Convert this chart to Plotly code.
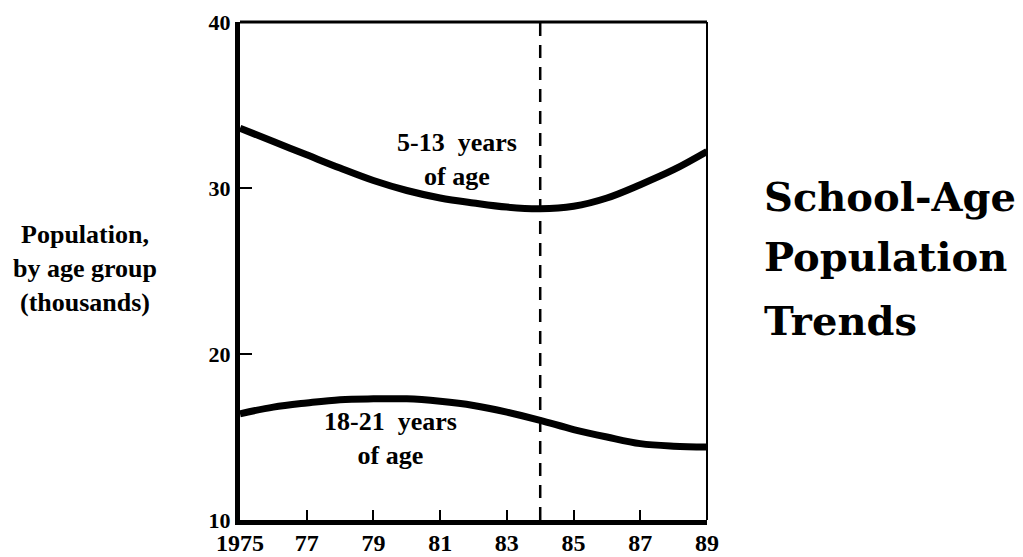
import plotly.graph_objects as go

years = list(range(1975, 1990))
age_5_13 = [33.6, 32.8, 32.0, 31.2, 30.45, 29.85, 29.4, 29.1, 28.85, 28.75, 28.9, 29.4, 30.2, 31.1, 32.2]
age_18_21 = [16.4, 16.8, 17.05, 17.25, 17.3, 17.3, 17.15, 16.9, 16.5, 16.0, 15.45, 15.0, 14.6, 14.45, 14.4]
x_tick_vals = [1975, 1977, 1979, 1981, 1983, 1985, 1987, 1989]
x_tick_text = ["1975", "77", "79", "81", "83", "85", "87", "89"]
y_tick_vals = [10, 20, 30, 40]
y_tick_text = ["10", "20", "30", "40"]
marker_year = 1984
title_lines = ["School-Age", "Population", "Trends"]

SERIF = "Liberation Serif, Times New Roman, serif"
WIDE = "DejaVu Serif, serif"

fig = go.Figure()
for vals in (age_5_13, age_18_21):
    fig.add_trace(go.Scatter(x=years, y=vals, mode="lines",
                             line=dict(color="black", width=7, shape="spline", smoothing=1.0),
                             showlegend=False, hoverinfo="skip"))

fig.add_vline(x=marker_year, line=dict(color="black", width=2.5, dash="13px,9px"))

# thin top and right border
fig.add_shape(type="line", xref="paper", yref="paper", x0=0, x1=1, y0=1, y1=1,
              line=dict(color="black", width=3))
fig.add_shape(type="line", xref="paper", yref="paper", x0=1, x1=1, y0=0, y1=1,
              line=dict(color="black", width=2))

fig.add_annotation(x=1981.5, y=31.7, xref="x", yref="y", text="<b>5-13  years<br>of age</b>",
                   showarrow=False, font=dict(family=SERIF, size=26, color="black"),
                   align="center")
fig.add_annotation(x=1979.5, y=14.9, xref="x", yref="y", text="<b>18-21  years<br>of age</b>",
                   showarrow=False, font=dict(family=SERIF, size=26, color="black"),
                   align="center")

fig.add_annotation(x=-0.332, y=0.506, xref="paper", yref="paper",
                   text="<b>Population,<br>by age group<br>(thousands)</b>",
                   showarrow=False, font=dict(family=SERIF, size=26, color="black"),
                   align="center", xanchor="center", yanchor="middle")

for line_text, py in zip(title_lines, [0.649, 0.530, 0.400]):
    fig.add_annotation(x=1.118, y=py, xref="paper", yref="paper",
                       text="<b>%s</b>" % line_text,
                       showarrow=False, font=dict(family=WIDE, size=40, color="black"),
                       align="left", xanchor="left", yanchor="middle")

fig.update_layout(
    width=1015, height=557,
    margin=dict(l=232, r=316, t=14, b=45, autoexpand=False),
    paper_bgcolor="white", plot_bgcolor="white",
    font=dict(family=SERIF, color="black"),
    xaxis=dict(range=[1975, 1989], tickvals=x_tick_vals, ticktext=["<b>%s</b>" % t for t in x_tick_text],
               automargin=False, ticklabelstandoff=-3,
               showgrid=False, zeroline=False, showline=True, linecolor="black", linewidth=5,
               ticks="inside", ticklen=10, tickwidth=2, tickcolor="black",
               tickfont=dict(family=SERIF, size=24, color="black")),
    yaxis=dict(range=[10, 40], tickvals=y_tick_vals, ticktext=["<b>%s</b>" % t for t in y_tick_text],
               automargin=False,
               showgrid=False, zeroline=False, showline=True, linecolor="black", linewidth=5,
               ticks="inside", ticklen=12, tickwidth=2, tickcolor="black",
               tickfont=dict(family=SERIF, size=22, color="black")),
)

fig.write_html("out.html")
